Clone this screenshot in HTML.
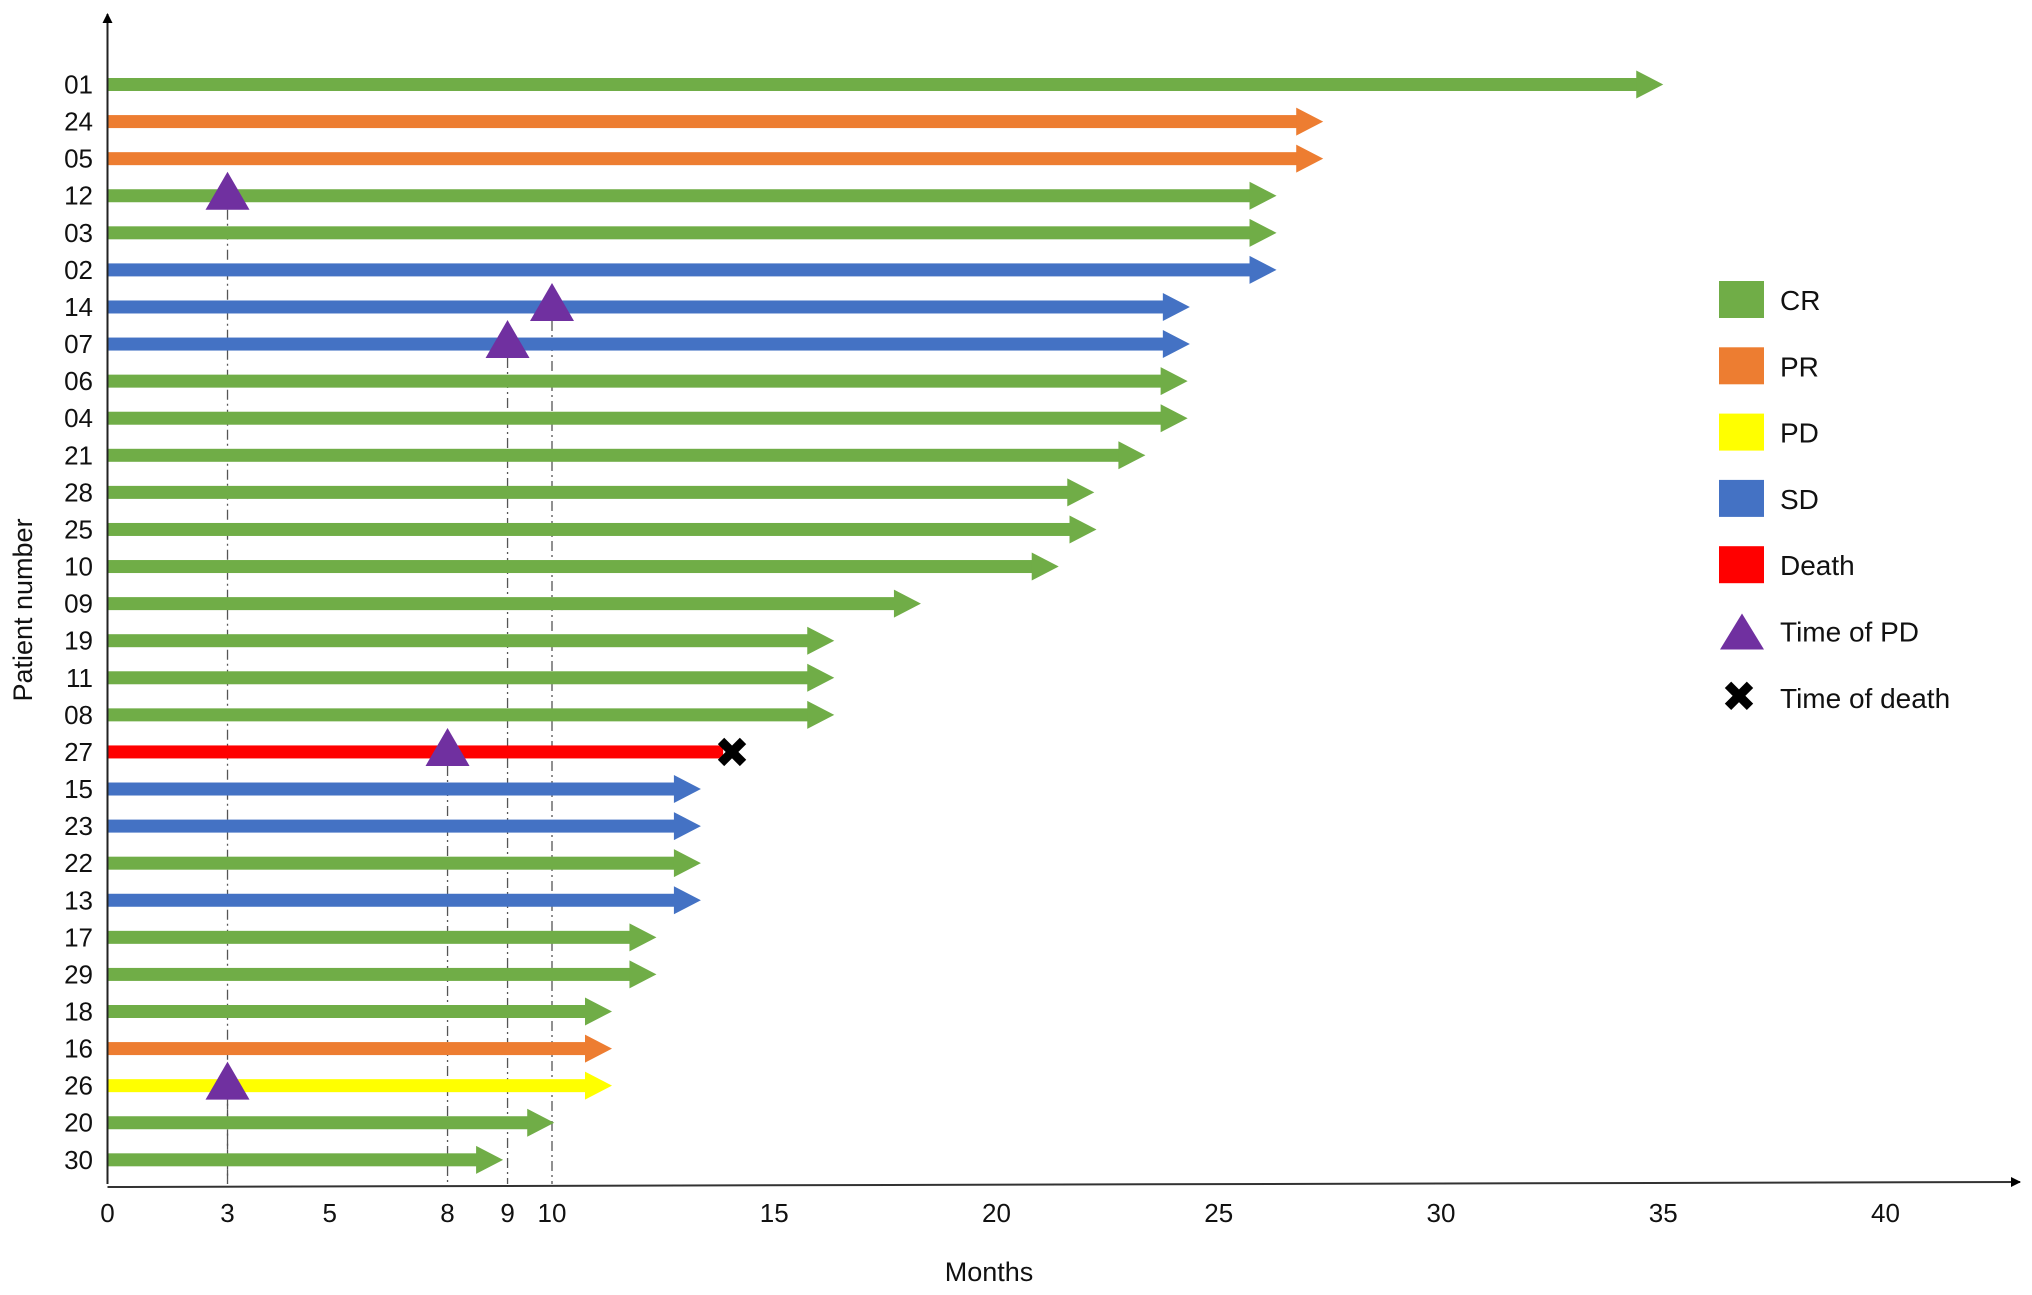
<!DOCTYPE html>
<html><head><meta charset="utf-8">
<style>
html,body{margin:0;padding:0;background:#fff;}
svg{display:block;font-family:"Liberation Sans",Arial,sans-serif;}
</style></head>
<body>
<svg id="chart" width="2032" height="1295" viewBox="0 0 2032 1295" xmlns="http://www.w3.org/2000/svg">
<defs>
<marker id="ah" markerWidth="10" markerHeight="10" refX="9" refY="5" orient="auto" markerUnits="userSpaceOnUse"><path d="M0,0 L10,5 L0,10 z" fill="#000"/></marker>
</defs>
<g id="dash"></g>
<g id="bars"></g>
<g id="marks"></g>
<g id="axes"></g>
<g id="legend"></g>
</svg>
<script>
const patients = ["01","24","05","12","03","02","14","07","06","04","21","28","25","10","09","19","11","08","27","15","23","22","13","17","29","18","16","26","20","30"];
const durations = [35.0,27.35,27.35,26.3,26.3,26.3,24.35,24.35,24.3,24.3,23.35,22.2,22.25,21.4,18.3,16.35,16.35,16.35,13.85,13.35,13.35,13.35,13.35,12.35,12.35,11.35,11.35,11.35,10.05,8.9];
const responses = ["CR","PR","PR","CR","CR","SD","SD","SD","CR","CR","CR","CR","CR","CR","CR","CR","CR","CR","Death","SD","SD","CR","SD","CR","CR","CR","PR","PD","CR","CR"];
const pdPatients = ["12","14","07","27","26"];
const pdMonths = [2.7,10,9,7.65,2.7];
const deathPatients = ["27"];
const deathMonths = [14.05];
const xTickValues = [0,2.7,5,7.65,9,10,15,20,25,30,35,40];
const xTickLabels = ["0","3","5","8","9","10","15","20","25","30","35","40"];
const legendLabels = ["CR","PR","PD","SD","Death"];

const colors = {CR:"#70AD47",PR:"#ED7D31",PD:"#FFFF00",SD:"#4472C4",Death:"#FF0000"};
const NS="http://www.w3.org/2000/svg";
const X0=107.5, PXM=44.45, Y0=84.5, DY=37.08, AXY=1184;
const xs = m => X0 + m*PXM;
const ys = i => Y0 + i*DY;
function mk(tag, attrs, parent, txt){const e=document.createElementNS(NS,tag);for(const k in attrs)e.setAttribute(k,attrs[k]);if(txt!==undefined)e.textContent=txt;parent.appendChild(e);return e;}
const gB=document.getElementById('bars'),gM=document.getElementById('marks'),gA=document.getElementById('axes'),gL=document.getElementById('legend'),gD=document.getElementById('dash');

pdPatients.forEach((p,k)=>{
  const i=patients.indexOf(p);
  const l=mk('line',{x1:xs(pdMonths[k]),x2:xs(pdMonths[k]),y1:ys(i)+14,y2:AXY,stroke:'#555','stroke-width':1.3,'stroke-dasharray':'10,4,2,4'},gD);
  
  
});

patients.forEach((p,i)=>{
  const y=ys(i), end=xs(durations[i]), c=colors[responses[i]];
  const g=mk('g',{},gB);
  
  
  if(responses[i]==='Death'){
    mk('rect',{x:X0,y:y-6.5,width:end-X0,height:13,fill:c},g);
  } else {
    mk('rect',{x:X0,y:y-6.5,width:end-X0-26,height:13,fill:c},g);
    mk('polygon',{points:`${end-27},${y-14} ${end},${y} ${end-27},${y+14}`,fill:c},g);
  }
  const t=mk('text',{x:93,y:y+9,'text-anchor':'end','font-size':26,fill:'#111'},gA,p);
  
  
});

pdPatients.forEach((p,k)=>{
  const i=patients.indexOf(p), x=xs(pdMonths[k]), y=ys(i);
  const t=mk('polygon',{points:`${x-22},${y+14} ${x},${y-24} ${x+22},${y+14}`,fill:'#7030A0'},gM);
  
  
});
function cross(cx,cy,s,parent){
  const g=mk('g',{},parent);
  mk('line',{x1:cx-s,y1:cy-s,x2:cx+s,y2:cy+s,stroke:'#000','stroke-width':9},g);
  mk('line',{x1:cx-s,y1:cy+s,x2:cx+s,y2:cy-s,stroke:'#000','stroke-width':9},g);
  return g;
}
deathPatients.forEach((p,k)=>{
  const i=patients.indexOf(p);
  const g=cross(xs(deathMonths[k]),ys(i),11,gM);
  
  
});

const ya=mk('line',{x1:X0,y1:AXY,x2:X0,y2:14,stroke:'#222','stroke-width':2,'marker-end':'url(#ah)'},gA);


const xa=mk('line',{x1:X0,y1:AXY+3,x2:2020,y2:AXY-2,stroke:'#333','stroke-width':2,'marker-end':'url(#ah)'},gA);


xTickValues.forEach((v,k)=>{
  const t=mk('text',{x:xs(v),y:1222,'text-anchor':'middle','font-size':26,fill:'#111'},gA,xTickLabels[k]);
  
  
});
const xt=mk('text',{x:989,y:1281,'text-anchor':'middle','font-size':27,fill:'#111'},gA,'Months');


const yt=mk('text',{x:0,y:0,'text-anchor':'middle','font-size':27,fill:'#111',transform:'translate(32,610) rotate(-90)'},gA,'Patient number');



legendLabels.forEach((lab,k)=>{
  const y=300+k*66.3;
  const g=mk('g',{},gL);
  
  
  mk('rect',{x:1719,y:y-19,width:45,height:37,fill:colors[lab]},g);
  mk('text',{x:1780,y:y+10,'font-size':28,fill:'#111'},g,lab);
});
{
  const y=300+5*66.3;
  const g=mk('g',{},gL);
  
  
  mk('polygon',{points:`1720,${y+18} 1742,${y-18} 1764,${y+18}`,fill:'#7030A0'},g);
  mk('text',{x:1780,y:y+10,'font-size':28,fill:'#111'},g,'Time of PD');
  const y2=300+6*66.3;
  const g2=mk('g',{},gL);
  
  
  cross(1739,y2-2,11,g2);
  mk('text',{x:1780,y:y2+10,'font-size':28,fill:'#111'},g2,'Time of death');
}
</script>
</body></html>
